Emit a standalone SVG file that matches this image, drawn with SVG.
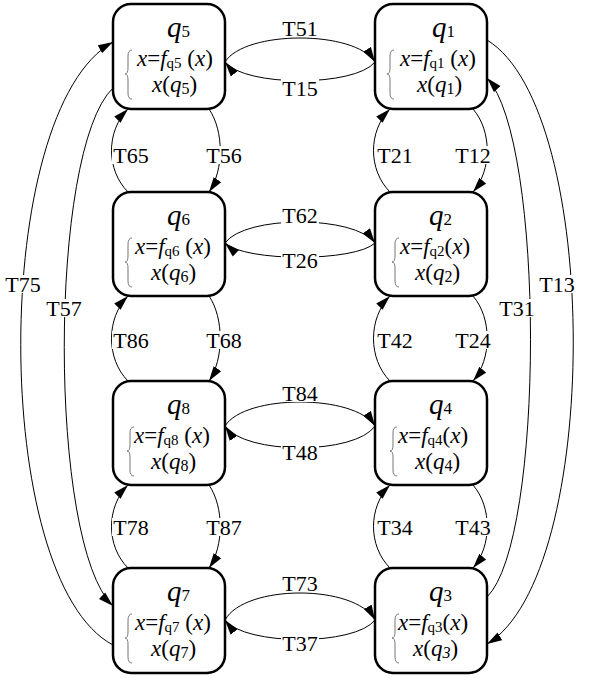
<svg xmlns="http://www.w3.org/2000/svg" width="591" height="678" viewBox="0 0 591 678">
<style>
.box{fill:#fff;stroke:#000;stroke-width:2.5}
.e{fill:none;stroke:#000;stroke-width:1;marker-end:url(#ah)}
.br{fill:none;stroke:#777;stroke-width:1}
text{font-family:"Liberation Serif","Times New Roman",serif;fill:#000}
.lbl{font-size:22px;text-anchor:middle}
.lb{fill:#fff}
.q{font-size:29px;font-style:italic}
.qs{font-size:17px;font-style:normal}
.t{font-size:23px}
.it{font-style:italic}
.s{font-size:15px}
.s2{font-size:16px}
</style>
<defs>
<marker id="ah" markerWidth="16" markerHeight="10" refX="15" refY="5" orient="auto" markerUnits="userSpaceOnUse"><path d="M0,0.5 L15,5 L0,9.5 z" fill="#000"/></marker>
</defs>
<rect width="591" height="678" fill="#fff"/>
<g id="connectors">
<path class="e" d="M225,62 C245,30 355,30 375,62"/>
<path class="e" d="M375,62 C355,87 245,87 225,62"/>
<path class="e" d="M225,243 C245,215 355,215 375,243"/>
<path class="e" d="M375,243 C355,262 245,262 225,243"/>
<path class="e" d="M225,426 C245,394 355,394 375,426"/>
<path class="e" d="M375,426 C355,455 245,455 225,426"/>
<path class="e" d="M225,620 C245,584 355,584 375,620"/>
<path class="e" d="M375,620 C355,646 245,646 225,620"/>
<path class="e" d="M128,192 C106,170 106,131 128,109"/>
<path class="e" d="M209,109 C224,131 224,170 209,192"/>
<path class="e" d="M390,192 C368,170 368,131 390,109"/>
<path class="e" d="M473,109 C492,131 492,170 473,192"/>
<path class="e" d="M128,381 C106,359 106,318 128,296"/>
<path class="e" d="M209,296 C224,318 224,359 209,381"/>
<path class="e" d="M390,381 C368,359 368,318 390,296"/>
<path class="e" d="M473,296 C492,318 492,359 473,381"/>
<path class="e" d="M128,568 C106,546 106,507 128,485"/>
<path class="e" d="M209,485 C224,507 224,546 209,568"/>
<path class="e" d="M390,568 C368,546 368,507 390,485"/>
<path class="e" d="M473,485 C492,507 492,546 473,568"/>
<path class="e" d="M113,645 C-10,580 -10,110 113,42"/>
<path class="e" d="M113,88 C48,150 48,545 113,606"/>
<path class="e" d="M487,40 C602,110 602,575 487,644"/>
<path class="e" d="M487,597 C545,540 545,140 487,78"/>
<g>
<rect class="lb" x="281" y="19" width="38" height="18"/><text class="lbl" x="300" y="35.5">T51</text>
<rect class="lb" x="281" y="79" width="38" height="18"/><text class="lbl" x="300" y="95.5">T15</text>
<rect class="lb" x="281" y="206" width="38" height="18"/><text class="lbl" x="300" y="222.5">T62</text>
<rect class="lb" x="281" y="251" width="38" height="18"/><text class="lbl" x="300" y="267.5">T26</text>
<rect class="lb" x="281" y="384" width="38" height="18"/><text class="lbl" x="300" y="400.5">T84</text>
<rect class="lb" x="281" y="443" width="38" height="18"/><text class="lbl" x="300" y="459.5">T48</text>
<rect class="lb" x="281" y="574" width="38" height="18"/><text class="lbl" x="300" y="590.5">T73</text>
<rect class="lb" x="281" y="634" width="38" height="18"/><text class="lbl" x="300" y="650.5">T37</text>
<rect class="lb" x="112" y="146" width="38" height="18"/><text class="lbl" x="131" y="162.5">T65</text>
<rect class="lb" x="205" y="146" width="38" height="18"/><text class="lbl" x="224" y="162.5">T56</text>
<rect class="lb" x="376" y="146" width="38" height="18"/><text class="lbl" x="395" y="162.5">T21</text>
<rect class="lb" x="454" y="146" width="38" height="18"/><text class="lbl" x="473" y="162.5">T12</text>
<rect class="lb" x="112" y="331" width="38" height="18"/><text class="lbl" x="131" y="347.5">T86</text>
<rect class="lb" x="205" y="331" width="38" height="18"/><text class="lbl" x="224" y="347.5">T68</text>
<rect class="lb" x="376" y="331" width="38" height="18"/><text class="lbl" x="395" y="347.5">T42</text>
<rect class="lb" x="454" y="331" width="38" height="18"/><text class="lbl" x="473" y="347.5">T24</text>
<rect class="lb" x="112" y="518" width="38" height="18"/><text class="lbl" x="131" y="534.5">T78</text>
<rect class="lb" x="205" y="518" width="38" height="18"/><text class="lbl" x="224" y="534.5">T87</text>
<rect class="lb" x="376" y="518" width="38" height="18"/><text class="lbl" x="395" y="534.5">T34</text>
<rect class="lb" x="454" y="518" width="38" height="18"/><text class="lbl" x="473" y="534.5">T43</text>
<rect class="lb" x="4" y="275" width="38" height="18"/><text class="lbl" x="23" y="291.5">T75</text>
<rect class="lb" x="45" y="299" width="38" height="18"/><text class="lbl" x="64" y="315.5">T57</text>
<rect class="lb" x="498" y="299" width="38" height="18"/><text class="lbl" x="517" y="315.5">T31</text>
<rect class="lb" x="538" y="275" width="38" height="18"/><text class="lbl" x="557" y="291.5">T13</text>
</g>
</g>
<g id="q5">
<rect class="box" x="113" y="4" width="112" height="105" rx="18"/>
<text x="167" y="37"><tspan class="q">q</tspan><tspan class="qs">5</tspan></text>
<path class="br" d="M132,50 Q128,50 128,56 L128,68 Q128,74 125,74 Q128,74 128,80 L128,93 Q128,99 132,99"/>
<text class="t" x="137" y="66"><tspan class="it">x</tspan>=<tspan class="it">f</tspan><tspan class="s" dy="2">q5</tspan><tspan dy="-2"> (</tspan><tspan class="it">x</tspan>)</text>
<text class="t" x="152" y="92"><tspan class="it">x</tspan>(<tspan class="it">q</tspan><tspan class="s2" dy="2">5</tspan><tspan dy="-2">)</tspan></text>
</g>
<g id="q1">
<rect class="box" x="375" y="4" width="112" height="105" rx="18"/>
<text x="432" y="37"><tspan class="q">q</tspan><tspan class="qs">1</tspan></text>
<path class="br" d="M394,50 Q390,50 390,56 L390,68 Q390,74 387,74 Q390,74 390,80 L390,93 Q390,99 394,99"/>
<text class="t" x="400" y="66"><tspan class="it">x</tspan>=<tspan class="it">f</tspan><tspan class="s" dy="2">q1</tspan><tspan dy="-2"> (</tspan><tspan class="it">x</tspan>)</text>
<text class="t" x="417" y="92"><tspan class="it">x</tspan>(<tspan class="it">q</tspan><tspan class="s2" dy="2">1</tspan><tspan dy="-2">)</tspan></text>
</g>
<g id="q6">
<rect class="box" x="113" y="192" width="112" height="104" rx="18"/>
<text x="167" y="225"><tspan class="q">q</tspan><tspan class="qs">6</tspan></text>
<path class="br" d="M132,238 Q128,238 128,244 L128,256 Q128,262 125,262 Q128,262 128,268 L128,281 Q128,287 132,287"/>
<text class="t" x="135" y="254"><tspan class="it">x</tspan>=<tspan class="it">f</tspan><tspan class="s" dy="2">q6</tspan><tspan dy="-2"> (</tspan><tspan class="it">x</tspan>)</text>
<text class="t" x="151" y="280"><tspan class="it">x</tspan>(<tspan class="it">q</tspan><tspan class="s2" dy="2">6</tspan><tspan dy="-2">)</tspan></text>
</g>
<g id="q2">
<rect class="box" x="375" y="192" width="112" height="104" rx="18"/>
<text x="429" y="225"><tspan class="q">q</tspan><tspan class="qs">2</tspan></text>
<path class="br" d="M399,238 Q395,238 395,244 L395,256 Q395,262 392,262 Q395,262 395,268 L395,281 Q395,287 399,287"/>
<text class="t" x="400" y="254"><tspan class="it">x</tspan>=<tspan class="it">f</tspan><tspan class="s" dy="2">q2</tspan><tspan dy="-2">(</tspan><tspan class="it">x</tspan>)</text>
<text class="t" x="415" y="280"><tspan class="it">x</tspan>(<tspan class="it">q</tspan><tspan class="s2" dy="2">2</tspan><tspan dy="-2">)</tspan></text>
</g>
<g id="q8">
<rect class="box" x="113" y="381" width="112" height="104" rx="18"/>
<text x="167" y="414"><tspan class="q">q</tspan><tspan class="qs">8</tspan></text>
<path class="br" d="M134,427 Q130,427 130,433 L130,445 Q130,451 127,451 Q130,451 130,457 L130,470 Q130,476 134,476"/>
<text class="t" x="134" y="443"><tspan class="it">x</tspan>=<tspan class="it">f</tspan><tspan class="s" dy="2">q8</tspan><tspan dy="-2"> (</tspan><tspan class="it">x</tspan>)</text>
<text class="t" x="151" y="469"><tspan class="it">x</tspan>(<tspan class="it">q</tspan><tspan class="s2" dy="2">8</tspan><tspan dy="-2">)</tspan></text>
</g>
<g id="q4">
<rect class="box" x="375" y="381" width="112" height="104" rx="18"/>
<text x="429" y="414"><tspan class="q">q</tspan><tspan class="qs">4</tspan></text>
<path class="br" d="M397,427 Q393,427 393,433 L393,445 Q393,451 390,451 Q393,451 393,457 L393,470 Q393,476 397,476"/>
<text class="t" x="398" y="443"><tspan class="it">x</tspan>=<tspan class="it">f</tspan><tspan class="s" dy="2">q4</tspan><tspan dy="-2">(</tspan><tspan class="it">x</tspan>)</text>
<text class="t" x="415" y="469"><tspan class="it">x</tspan>(<tspan class="it">q</tspan><tspan class="s2" dy="2">4</tspan><tspan dy="-2">)</tspan></text>
</g>
<g id="q7">
<rect class="box" x="113" y="568" width="112" height="105" rx="18"/>
<text x="167" y="601"><tspan class="q">q</tspan><tspan class="qs">7</tspan></text>
<path class="br" d="M132,614 Q128,614 128,620 L128,632 Q128,638 125,638 Q128,638 128,644 L128,657 Q128,663 132,663"/>
<text class="t" x="135" y="630"><tspan class="it">x</tspan>=<tspan class="it">f</tspan><tspan class="s" dy="2">q7</tspan><tspan dy="-2"> (</tspan><tspan class="it">x</tspan>)</text>
<text class="t" x="151" y="656"><tspan class="it">x</tspan>(<tspan class="it">q</tspan><tspan class="s2" dy="2">7</tspan><tspan dy="-2">)</tspan></text>
</g>
<g id="q3">
<rect class="box" x="375" y="568" width="112" height="105" rx="18"/>
<text x="429" y="601"><tspan class="q">q</tspan><tspan class="qs">3</tspan></text>
<path class="br" d="M399,614 Q395,614 395,620 L395,632 Q395,638 392,638 Q395,638 395,644 L395,657 Q395,663 399,663"/>
<text class="t" x="398" y="630"><tspan class="it">x</tspan>=<tspan class="it">f</tspan><tspan class="s" dy="2">q3</tspan><tspan dy="-2">(</tspan><tspan class="it">x</tspan>)</text>
<text class="t" x="413" y="656"><tspan class="it">x</tspan>(<tspan class="it">q</tspan><tspan class="s2 it" dy="2">3</tspan><tspan dy="-2">)</tspan></text>
</g>
</svg>
